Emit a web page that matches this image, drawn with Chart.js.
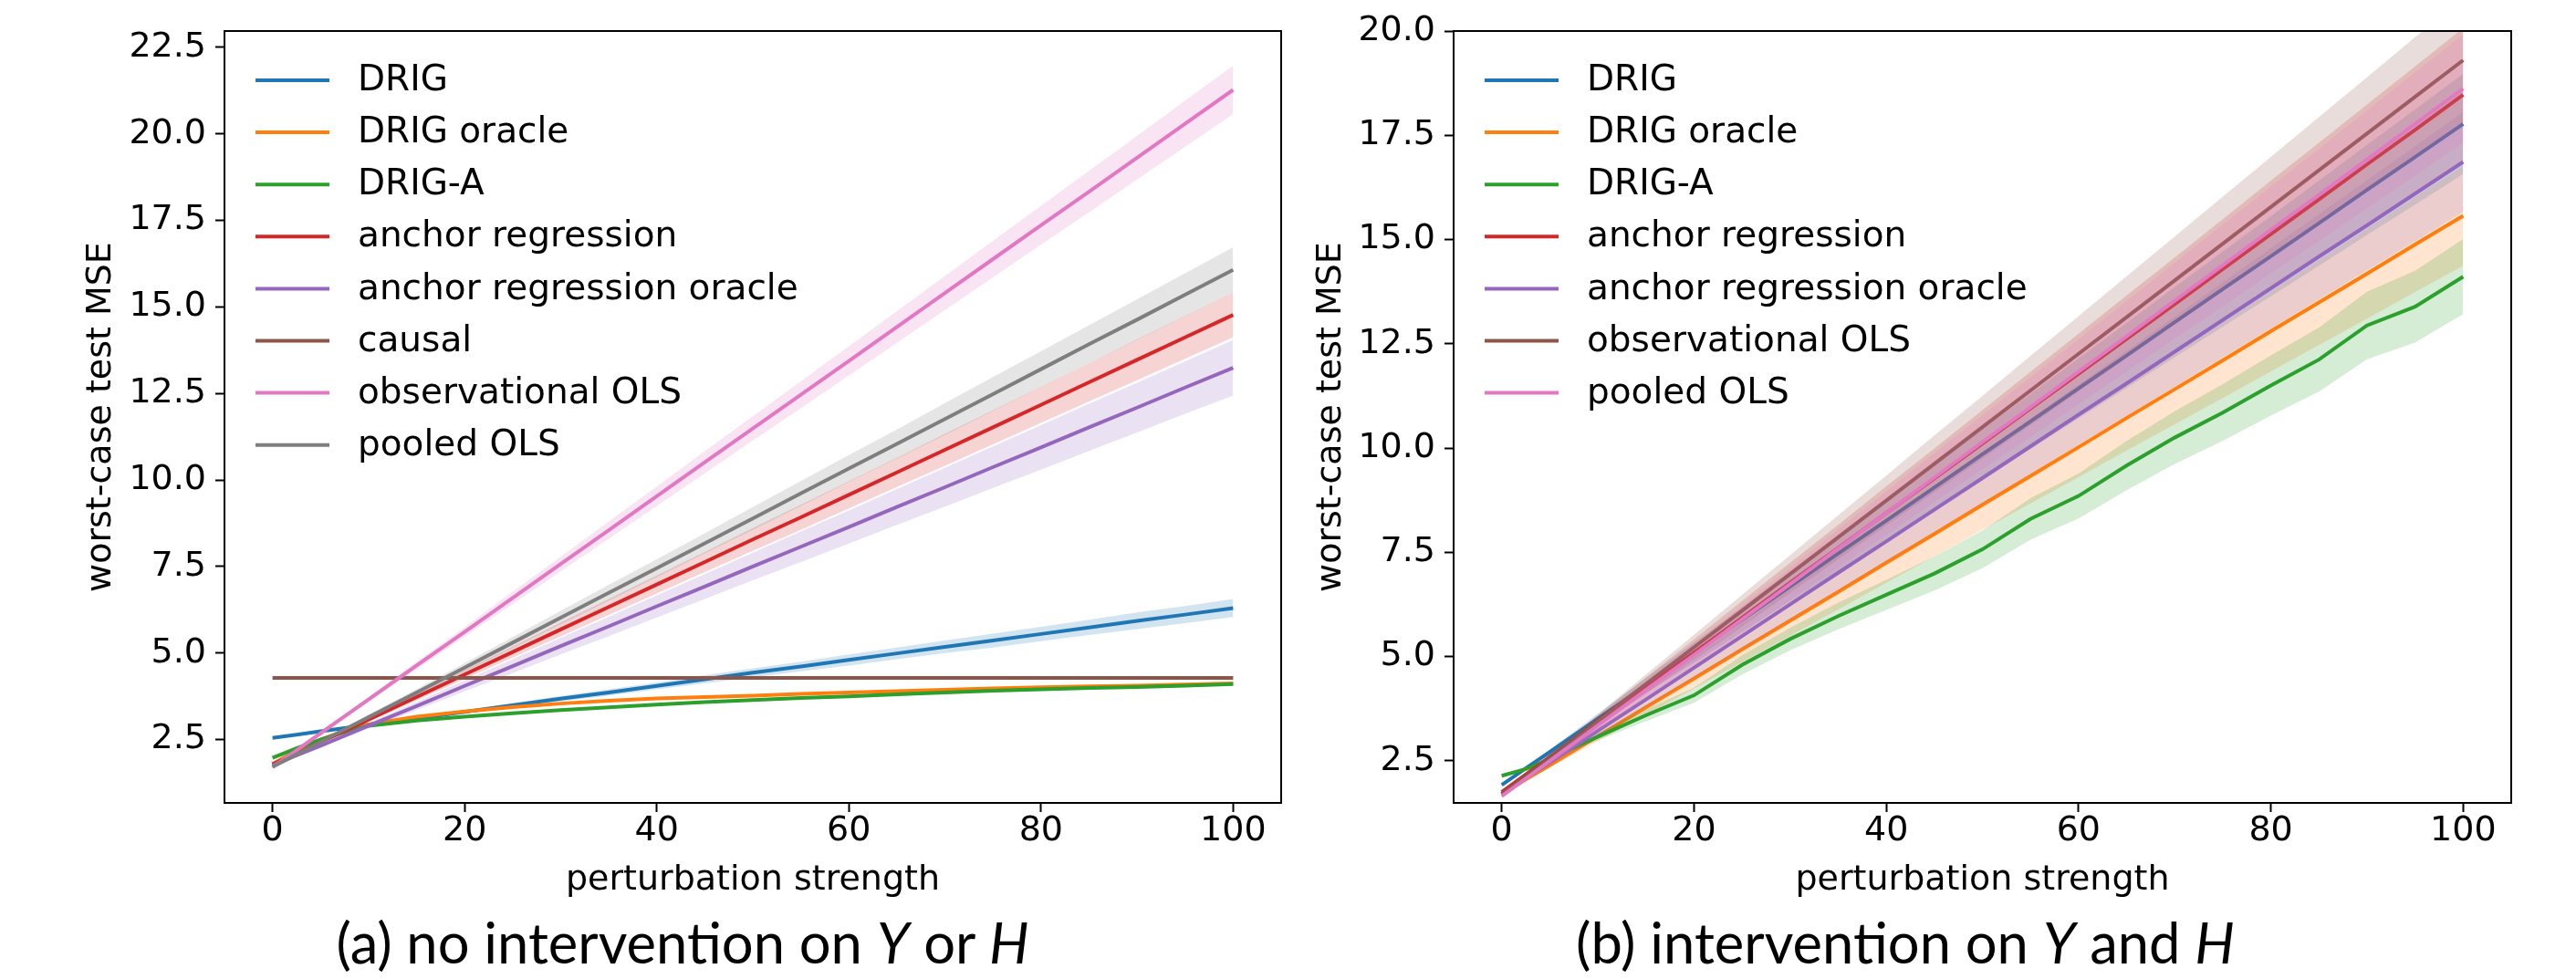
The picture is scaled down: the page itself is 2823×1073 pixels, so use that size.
<!DOCTYPE html>
<html><head><meta charset="utf-8">
<script src="https://cdn.jsdelivr.net/npm/chart.js@4/dist/chart.umd.min.js"></script>
<style>
html,body{margin:0;padding:0;background:#fff;width:2823px;height:1073px;overflow:hidden}
canvas{position:absolute;top:0}
#c1{left:0;width:1420px;height:1073px}
#c2{left:1420px;width:1403px;height:1073px}
.cap{position:absolute;top:1033px;font-family:Lato,"DejaVu Sans",sans-serif;font-size:61.5px;color:#000;white-space:nowrap;transform:translate(-50%,-50%);line-height:1}
</style></head><body>
<canvas id="c1" width="1420" height="1073"></canvas>
<canvas id="c2" width="1403" height="1073"></canvas>
<div class="cap" style="left:748px">(a) no intervention on <i>Y</i> or <i>H</i></div>
<div class="cap" style="left:2088px">(b) intervention on <i>Y</i> and <i>H</i></div>
<script>
// ---------- shared x values and tick labels ----------
const xs = [0, 2.5, 5, 7.5, 10, 15, 20, 25, 30, 35, 40, 45, 50, 55, 60, 65, 70, 75, 80, 85, 90, 95, 100];
const xTicks = [0, 20, 40, 60, 80, 100];
const yTicksA = [2.5, 5.0, 7.5, 10.0, 12.5, 15.0, 17.5, 20.0, 22.5];
const yTicksB = [2.5, 5.0, 7.5, 10.0, 12.5, 15.0, 17.5, 20.0];
const xTitle = 'perturbation strength';
const yTitle = 'worst-case test MSE';

// ---------- panel (a): no intervention on Y or H ----------
const labelsA = ['DRIG', 'DRIG oracle', 'DRIG-A', 'anchor regression', 'anchor regression oracle', 'causal', 'observational OLS', 'pooled OLS'];
const a_drig      = [2.55,2.64,2.74,2.83,2.93,3.11,3.30,3.49,3.68,3.86,4.05,4.24,4.43,4.61,4.80,4.99,5.18,5.36,5.55,5.74,5.93,6.11,6.30];
const a_drig_err  = [0.01,0.02,0.02,0.03,0.03,0.04,0.05,0.06,0.08,0.09,0.10,0.12,0.13,0.14,0.16,0.17,0.18,0.20,0.21,0.22,0.24,0.25,0.26];
const a_oracle    = [1.80,2.18,2.50,2.75,2.94,3.16,3.31,3.44,3.54,3.62,3.69,3.73,3.77,3.82,3.86,3.90,3.94,3.98,4.01,4.04,4.06,4.09,4.12];
const a_oracle_err= [0.01,0.01,0.01,0.01,0.02,0.02,0.02,0.02,0.03,0.03,0.03,0.03,0.03,0.04,0.04,0.04,0.04,0.04,0.04,0.05,0.05,0.05,0.05];
const a_driga     = [1.97,2.25,2.50,2.72,2.90,3.05,3.16,3.26,3.35,3.43,3.51,3.58,3.64,3.70,3.75,3.81,3.86,3.91,3.95,3.99,4.02,4.06,4.10];
const a_driga_err = [0.01,0.01,0.01,0.01,0.02,0.02,0.02,0.03,0.03,0.03,0.03,0.03,0.04,0.04,0.04,0.04,0.04,0.05,0.05,0.05,0.05,0.05,0.05];
const a_anchor    = [1.78,2.10,2.43,2.75,3.08,3.73,4.38,5.03,5.68,6.33,6.98,7.63,8.28,8.92,9.57,10.22,10.87,11.52,12.17,12.82,13.47,14.12,14.77];
const a_anchor_err= [0.00,0.02,0.03,0.05,0.07,0.10,0.13,0.16,0.20,0.23,0.26,0.29,0.33,0.36,0.39,0.42,0.46,0.49,0.52,0.55,0.59,0.62,0.65];
const a_anorc     = [1.75,2.04,2.32,2.61,2.90,3.47,4.05,4.62,5.20,5.77,6.35,6.92,7.50,8.07,8.64,9.22,9.79,10.37,10.94,11.52,12.09,12.67,13.24];
const a_anorc_err = [0.00,0.02,0.04,0.06,0.08,0.12,0.16,0.20,0.24,0.28,0.32,0.36,0.40,0.44,0.48,0.52,0.56,0.60,0.64,0.68,0.72,0.76,0.80];
const a_causal    = [4.28,4.28,4.28,4.28,4.28,4.28,4.28,4.28,4.28,4.28,4.28,4.28,4.28,4.28,4.28,4.28,4.28,4.28,4.28,4.28,4.28,4.28,4.28];
const a_causal_err= [0.02,0.02,0.02,0.02,0.02,0.02,0.02,0.02,0.02,0.02,0.02,0.02,0.02,0.02,0.02,0.02,0.02,0.02,0.02,0.02,0.02,0.02,0.02];
const a_obs       = [1.70,2.19,2.68,3.17,3.66,4.64,5.61,6.59,7.57,8.55,9.53,10.51,11.49,12.46,13.44,14.42,15.40,16.38,17.36,18.33,19.31,20.29,21.27];
const a_obs_err   = [0.00,0.02,0.04,0.05,0.07,0.11,0.14,0.18,0.21,0.25,0.28,0.32,0.35,0.39,0.42,0.46,0.49,0.53,0.56,0.60,0.63,0.67,0.70];
const a_pooled    = [1.71,2.07,2.43,2.79,3.15,3.86,4.58,5.30,6.02,6.74,7.45,8.17,8.89,9.61,10.33,11.04,11.76,12.48,13.20,13.92,14.63,15.35,16.07];
const a_pooled_err= [0.00,0.02,0.03,0.05,0.07,0.10,0.13,0.16,0.20,0.23,0.26,0.29,0.33,0.36,0.39,0.42,0.46,0.49,0.52,0.55,0.59,0.62,0.65];

// ---------- panel (b): intervention on Y and H ----------
const labelsB = ['DRIG', 'DRIG oracle', 'DRIG-A', 'anchor regression', 'anchor regression oracle', 'observational OLS', 'pooled OLS'];
const b_drig      = [1.92,2.32,2.71,3.11,3.51,4.30,5.09,5.88,6.68,7.47,8.26,9.05,9.85,10.64,11.43,12.22,13.02,13.81,14.60,15.39,16.19,16.98,17.77];
const b_drig_err  = [0.00,0.03,0.06,0.09,0.12,0.18,0.24,0.30,0.36,0.42,0.48,0.54,0.60,0.66,0.72,0.78,0.84,0.90,0.96,1.02,1.08,1.14,1.20];
const b_oracle    = [1.70,2.05,2.39,2.74,3.09,3.78,4.47,5.17,5.86,6.55,7.25,7.94,8.64,9.33,10.02,10.72,11.41,12.10,12.80,13.49,14.18,14.88,15.57];
const b_oracle_err= [0.00,0.03,0.06,0.09,0.12,0.18,0.24,0.30,0.36,0.42,0.48,0.54,0.60,0.66,0.72,0.78,0.84,0.90,0.96,1.02,1.08,1.14,1.20];
const b_driga     = [2.14,2.30,2.54,2.82,3.08,3.59,4.07,4.80,5.42,5.97,6.48,6.99,7.57,8.30,8.85,9.58,10.25,10.85,11.50,12.12,12.94,13.39,14.11];
const b_driga_err = [0.00,0.02,0.05,0.07,0.09,0.14,0.18,0.23,0.27,0.32,0.36,0.41,0.45,0.50,0.54,0.59,0.63,0.68,0.72,0.77,0.81,0.86,0.90];
const b_anchor    = [1.75,2.17,2.59,3.00,3.42,4.26,5.09,5.93,6.77,7.60,8.44,9.27,10.11,10.95,11.78,12.62,13.45,14.29,15.13,15.96,16.80,17.63,18.47];
const b_anchor_err= [0.00,0.04,0.08,0.12,0.16,0.24,0.32,0.40,0.48,0.56,0.64,0.72,0.80,0.88,0.96,1.04,1.12,1.20,1.28,1.36,1.44,1.52,1.60];
const b_anorc     = [1.70,2.08,2.46,2.84,3.22,3.97,4.73,5.49,6.25,7.01,7.76,8.52,9.28,10.04,10.80,11.55,12.31,13.07,13.83,14.59,15.34,16.10,16.86];
const b_anorc_err = [0.00,0.03,0.06,0.09,0.12,0.18,0.24,0.30,0.36,0.42,0.48,0.54,0.60,0.66,0.72,0.78,0.84,0.90,0.96,1.02,1.08,1.14,1.20];
const b_obs       = [1.70,2.14,2.58,3.02,3.46,4.34,5.22,6.10,6.98,7.86,8.74,9.62,10.50,11.38,12.26,13.14,14.02,14.90,15.78,16.66,17.54,18.42,19.30];
const b_obs_err   = [0.00,0.04,0.08,0.11,0.15,0.23,0.30,0.38,0.45,0.53,0.60,0.68,0.75,0.83,0.90,0.98,1.05,1.13,1.20,1.28,1.35,1.43,1.50];
const b_pooled    = [1.65,2.07,2.50,2.92,3.35,4.20,5.04,5.89,6.74,7.59,8.44,9.29,10.14,10.98,11.83,12.68,13.53,14.38,15.23,16.07,16.92,17.77,18.62];
const b_pooled_err= [0.00,0.03,0.07,0.10,0.13,0.20,0.26,0.33,0.39,0.46,0.52,0.59,0.65,0.72,0.78,0.85,0.91,0.98,1.04,1.11,1.17,1.24,1.30];

// ---------- styling ----------
const colorsA = ['#1f77b4','#ff7f0e','#2ca02c','#d62728','#9467bd','#8c564b','#e377c2','#7f7f7f'];
const colorsB = ['#1f77b4','#ff7f0e','#2ca02c','#d62728','#9467bd','#8c564b','#e377c2'];
const FONT = 'DejaVu Sans';
const FS = 38;
const LW = 4;

function rgba(hex, a){
  const n = parseInt(hex.slice(1),16);
  return `rgba(${(n>>16)&255},${(n>>8)&255},${n&255},${a})`;
}

function buildDatasets(labels, colors, means, errs){
  const ds = [];
  const n = labels.length;
  for (let i = 0; i < n; i++){
    const m = means[i], e = errs[i];
    const lineOrder = 1000 - 2*i;
    ds.push({ label: '', data: xs.map((x,k)=>({x, y: m[k]+e[k]})), borderWidth: 0, pointRadius: 0, fill: false, order: lineOrder-1, borderColor: 'rgba(0,0,0,0)' });
    ds.push({ label: '', data: xs.map((x,k)=>({x, y: m[k]-e[k]})), borderWidth: 0, pointRadius: 0, fill: '-1', backgroundColor: rgba(colors[i],0.2), order: lineOrder-1, borderColor: 'rgba(0,0,0,0)' });
    ds.push({ label: labels[i], isMain: true, data: xs.map((x,k)=>({x, y: m[k]})), borderColor: colors[i], borderWidth: LW, pointRadius: 0, fill: false, tension: 0, order: lineOrder });
  }
  return ds;
}

const frameLegend = {
  id: 'frameLegend',
  afterDatasetsDraw(chart){
    const a = chart.chartArea, ctx = chart.ctx;
    ctx.save();
    ctx.strokeStyle = '#000'; ctx.lineWidth = 2;
    ctx.strokeRect(a.left, a.top, a.right - a.left, a.bottom - a.top);
    ctx.font = `39px "${FONT}"`;
    ctx.textBaseline = 'middle';
    ctx.fillStyle = '#000';
    const items = chart.data.datasets.filter(d => d.isMain);
    items.forEach((d, i) => {
      const y = a.top + 54 + i*57.1;
      ctx.strokeStyle = d.borderColor; ctx.lineWidth = LW;
      ctx.beginPath(); ctx.moveTo(a.left + 34, y); ctx.lineTo(a.left + 115, y); ctx.stroke();
      ctx.fillText(d.label, a.left + 146, y + 1);
    });
    ctx.restore();
  }
};

function makeChart(id, datasets, yMin, yMax, yTicks, padLeft, yWidth, padRight){
  const font = { family: FONT, size: FS, lineHeight: 1 };
  return new Chart(document.getElementById(id), {
    type: 'line',
    data: { datasets },
    options: {
      responsive: false, animation: false, devicePixelRatio: 1, events: [],
      layout: { padding: { left: padLeft, right: padRight, top: 34, bottom: 89 } },
      plugins: { legend: { display: false }, tooltip: { enabled: false }, filler: { propagate: false } },
      elements: { line: { tension: 0, capBezierPoints: false } },
      scales: {
        x: {
          type: 'linear', min: -5, max: 105,
          afterBuildTicks: s => { s.ticks = xTicks.map(v => ({ value: v })); },
          afterFit: s => { s.height = 104; },
          ticks: { font, color: '#000', padding: 2, maxRotation: 0, autoSkip: false, callback: v => String(v) },
          grid: { drawOnChartArea: false, drawTicks: true, tickLength: 10, tickWidth: 2, tickColor: '#000', color: '#000' },
          border: { display: true, color: '#000', width: 2 },
          title: { display: true, text: xTitle, font, color: '#000', padding: 0 }
        },
        y: {
          type: 'linear', min: yMin, max: yMax,
          afterBuildTicks: s => { s.ticks = yTicks.map(v => ({ value: v })); },
          afterFit: s => { s.width = yWidth; },
          ticks: { font, color: '#000', padding: 10, autoSkip: false, callback: v => Number(v).toFixed(1) },
          grid: { drawOnChartArea: false, drawTicks: true, tickLength: 10, tickWidth: 2, tickColor: '#000', color: '#000' },
          border: { display: true, color: '#000', width: 2 },
          title: { display: true, text: yTitle, font, color: '#000', padding: 0 }
        }
      }
    },
    plugins: [frameLegend]
  });
}

const dsA = buildDatasets(labelsA, colorsA,
  [a_drig, a_oracle, a_driga, a_anchor, a_anorc, a_causal, a_obs, a_pooled],
  [a_drig_err, a_oracle_err, a_driga_err, a_anchor_err, a_anorc_err, a_causal_err, a_obs_err, a_pooled_err]);
const dsB = buildDatasets(labelsB, colorsB,
  [b_drig, b_oracle, b_driga, b_anchor, b_anorc, b_obs, b_pooled],
  [b_drig_err, b_oracle_err, b_driga_err, b_anchor_err, b_anorc_err, b_obs_err, b_pooled_err]);

makeChart('c1', dsA, 0.67, 22.97, yTicksA, 92, 154, 16);
makeChart('c2', dsB, 1.49, 20.0, yTicksB, 20, 153, 71);
</script>
</body></html>
